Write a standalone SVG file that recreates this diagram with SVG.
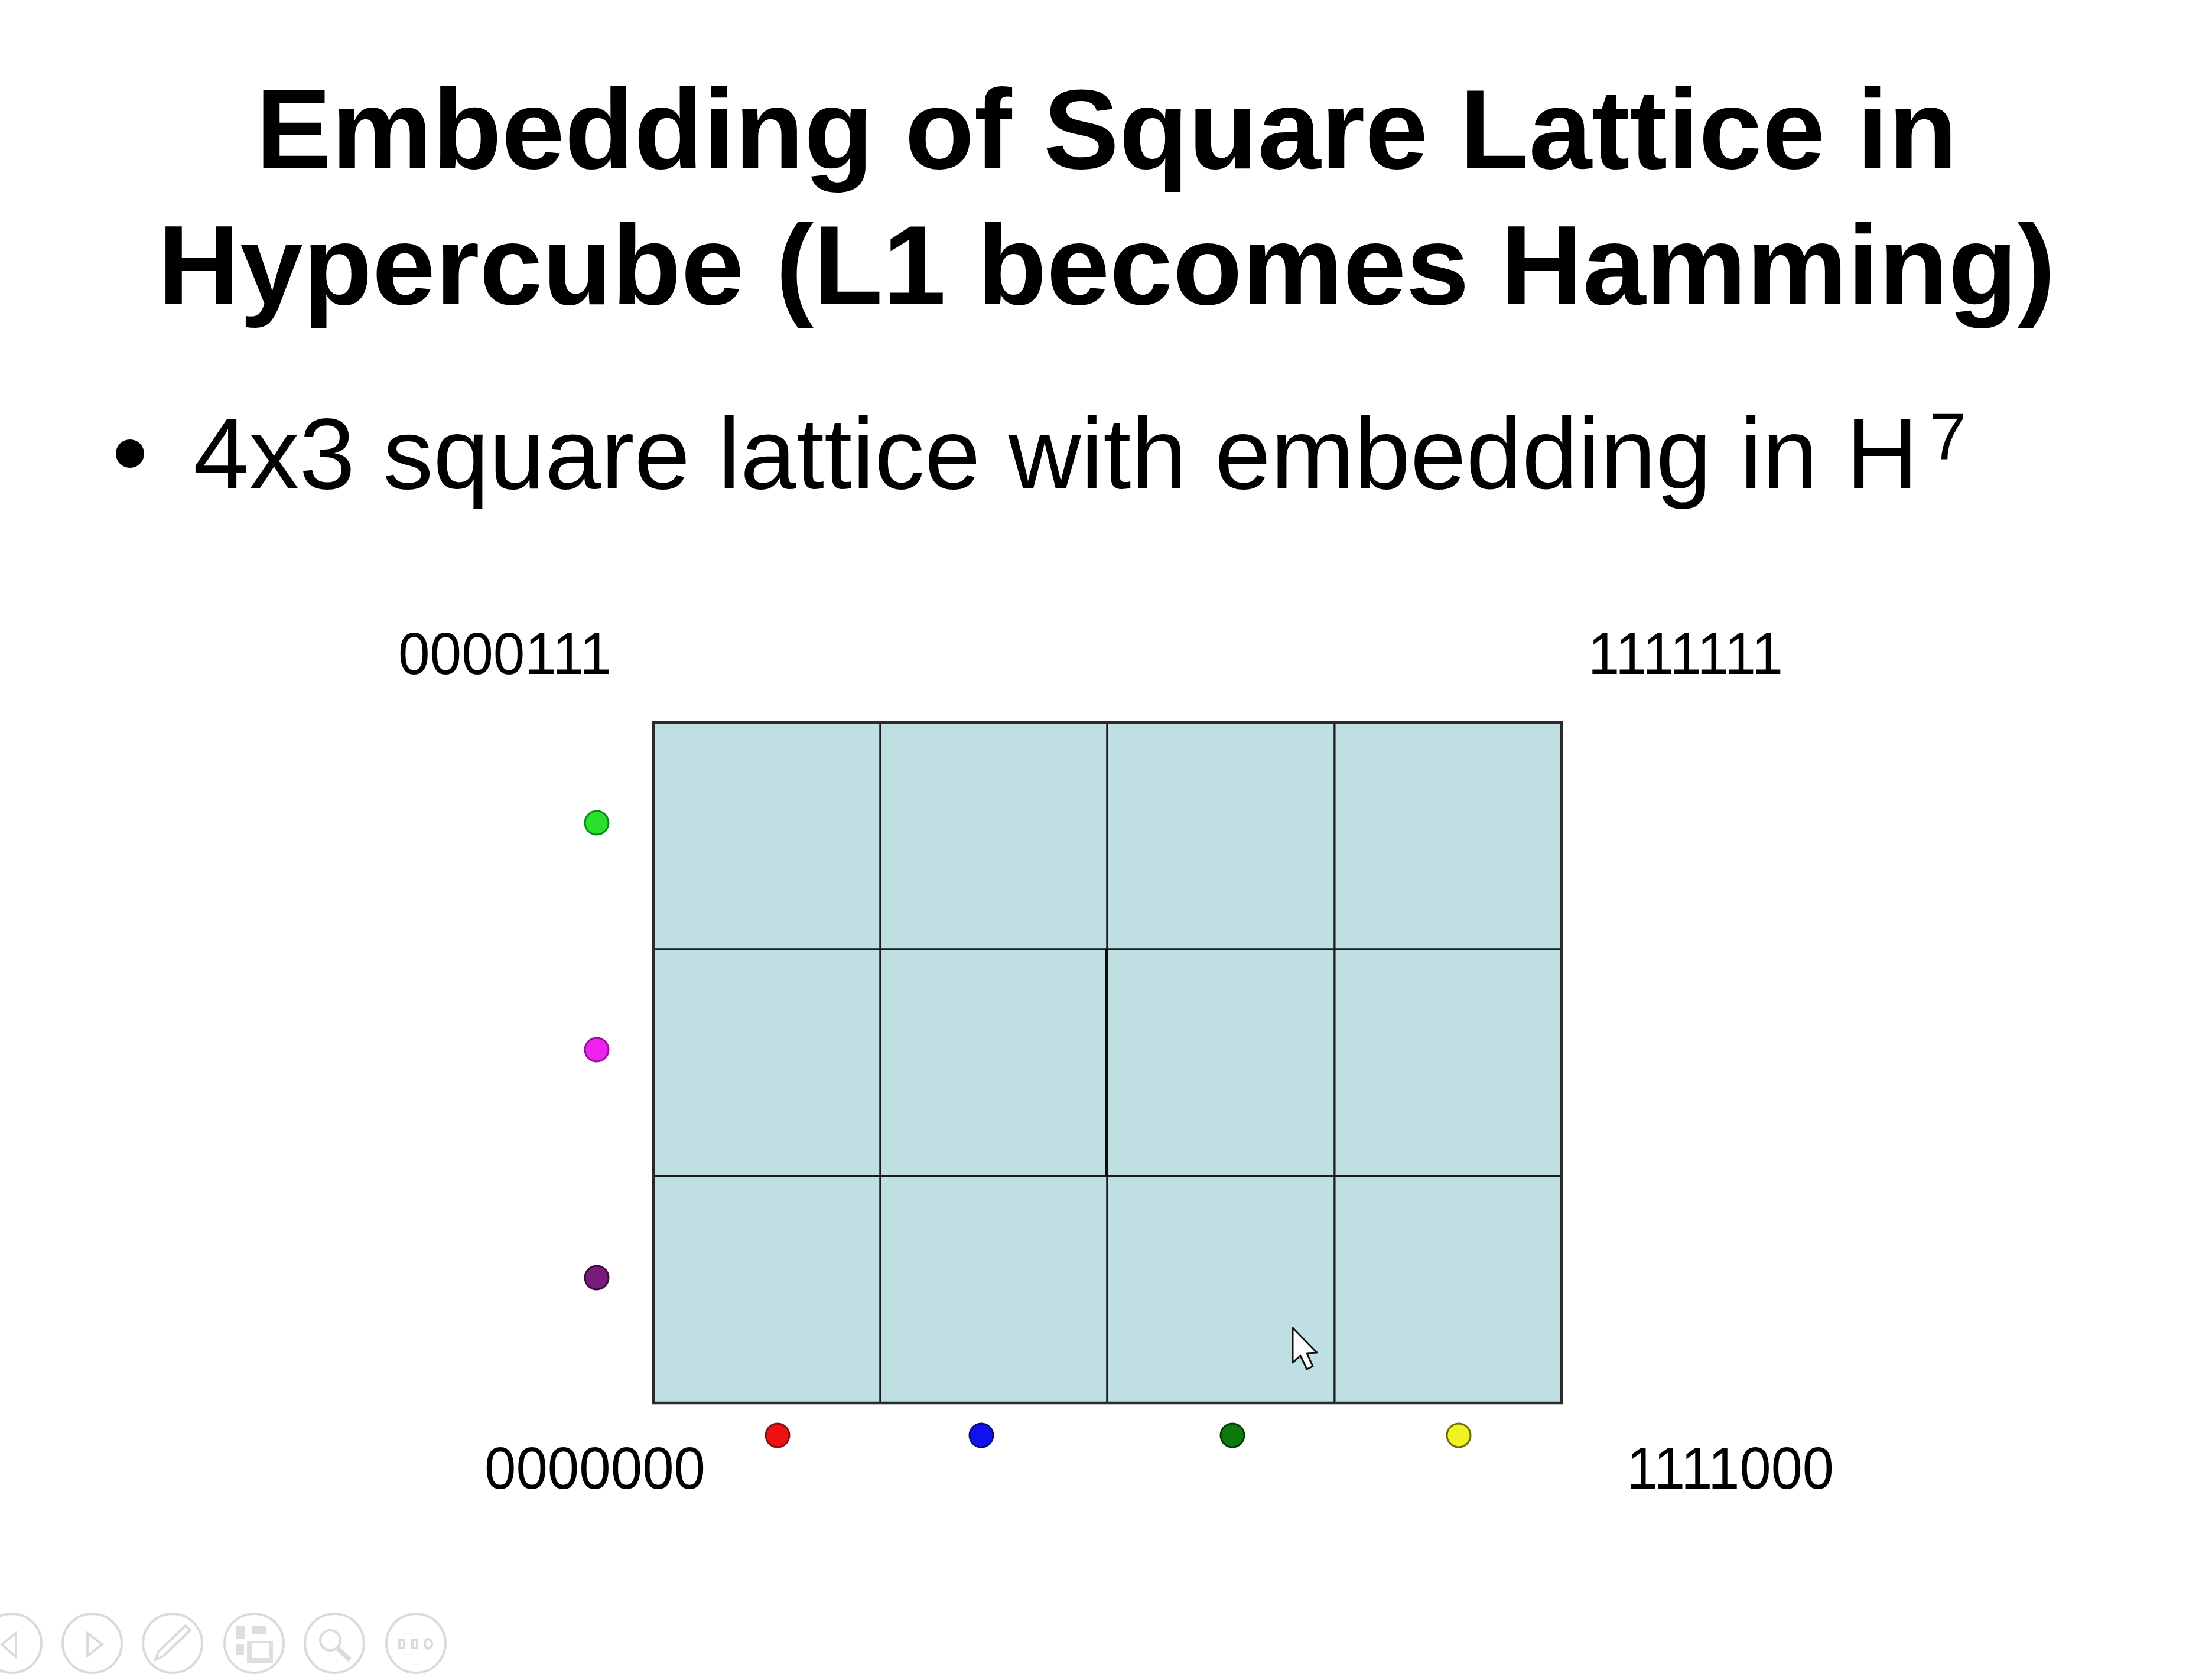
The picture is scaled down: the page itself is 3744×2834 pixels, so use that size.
<svg xmlns="http://www.w3.org/2000/svg" width="3744" height="2834" viewBox="0 0 3744 2834">
<style>
.title{font-family:"Liberation Sans",Arial,sans-serif;font-weight:bold;font-size:192px;fill:#000;text-anchor:middle}
.body{font-family:"Liberation Sans",Arial,sans-serif;font-size:170px;fill:#000}
.lbl{font-family:"Liberation Sans",Arial,sans-serif;font-size:100px;fill:#000}
.cell{fill:#bfdfe3;stroke:#1a1a1a;stroke-width:3}
.tb{fill:none;stroke:#dadada;stroke-width:4}
.tbf{fill:#dedede;stroke:none}
</style>
<rect width="3744" height="2834" fill="#ffffff"/>
<g id="title">
<text class="title" x="1873" y="285">Embedding of Square Lattice in</text>
<text class="title" x="1873" y="515">Hypercube (L1 becomes Hamming)</text>
</g>
<g id="bullet">
<circle cx="220" cy="768" r="24" fill="#000"/>
<text class="body" x="327" y="827">4x3 square lattice with embedding in H<tspan font-size="112" x="3266" y="777">7</tspan></text>
</g>
<g id="lattice">
<rect class="cell" x="1106" y="1223" width="384" height="384"/>
<rect class="cell" x="1490" y="1223" width="384" height="384"/>
<rect class="cell" x="1874" y="1223" width="385" height="384"/>
<rect class="cell" x="2259" y="1223" width="384" height="384"/>
<rect class="cell" x="1106" y="1607" width="384" height="384"/>
<rect class="cell" x="1490" y="1607" width="384" height="384"/>
<rect class="cell" x="1874" y="1607" width="385" height="384"/>
<rect class="cell" x="2259" y="1607" width="384" height="384"/>
<rect class="cell" x="1106" y="1991" width="384" height="384"/>
<rect class="cell" x="1490" y="1991" width="384" height="384"/>
<rect class="cell" x="1874" y="1991" width="385" height="384"/>
<rect class="cell" x="2259" y="1991" width="384" height="384"/>
<line x1="1873" y1="1607" x2="1873" y2="1991" stroke="#0a0a0a" stroke-width="6"/>
<rect x="1106" y="1223" width="1537" height="1152" fill="none" stroke="#2a2a2a" stroke-width="4.5"/>
</g>
<g id="dots">
<circle id="dot-green" cx="1010" cy="1393" r="20" fill="#2be02b" stroke="#11881a" stroke-width="3"/>
<circle id="dot-magenta" cx="1010" cy="1777" r="20" fill="#ee22ee" stroke="#991199" stroke-width="3"/>
<circle id="dot-purple" cx="1010" cy="2163" r="20" fill="#7a1a7a" stroke="#3e0a3e" stroke-width="3"/>
<circle id="dot-red" cx="1316" cy="2430" r="20" fill="#ee1111" stroke="#881010" stroke-width="3"/>
<circle id="dot-blue" cx="1661" cy="2430" r="20" fill="#1111ee" stroke="#0a0a88" stroke-width="3"/>
<circle id="dot-darkgreen" cx="2086" cy="2430" r="20" fill="#0c7a0c" stroke="#063d06" stroke-width="3"/>
<circle id="dot-yellow" cx="2469" cy="2430" r="20" fill="#f2f222" stroke="#6a6a10" stroke-width="3"/>
</g>
<g id="labels">
<text class="lbl" x="674" y="1141" textLength="361" lengthAdjust="spacingAndGlyphs">0000111</text>
<text class="lbl" x="2688" y="1141" textLength="330" lengthAdjust="spacingAndGlyphs">1111111</text>
<text class="lbl" x="820" y="2520" textLength="374" lengthAdjust="spacingAndGlyphs">0000000</text>
<text class="lbl" x="2753" y="2520" textLength="351" lengthAdjust="spacingAndGlyphs">1111000</text>
</g>
<g id="cursor">
<polygon points="2188,2248 2188,2307 2201,2295 2212,2318 2222,2313 2212,2291 2229,2290" fill="#ffffff" stroke="#111" stroke-width="3" stroke-linejoin="round"/>
</g>
<g id="toolbar">
<circle class="tb" cx="20" cy="2782" r="50"/>
<polygon class="tb" points="3,2784 27,2765 27,2805"/>
<circle class="tb" cx="156" cy="2782" r="50"/>
<polygon class="tb" points="148,2765 173,2784 148,2803"/>
<circle class="tb" cx="292" cy="2782" r="50"/>
<polygon class="tb" points="263,2810 268,2796 314,2752 322,2760 276,2804"/>
<circle class="tb" cx="430" cy="2782" r="50"/>
<rect class="tbf" x="399" y="2752" width="16" height="22"/>
<rect class="tbf" x="426" y="2752" width="24" height="14"/>
<rect class="tbf" x="399" y="2783" width="14" height="18"/>
<rect class="tbf" x="418" y="2778" width="44" height="37"/>
<rect x="427" y="2782" width="28" height="25" fill="#ffffff"/>
<circle class="tb" cx="566" cy="2782" r="50"/>
<circle class="tb" cx="559" cy="2777" r="17" stroke-width="6"/>
<line x1="571" y1="2790" x2="592" y2="2810" stroke="#dadada" stroke-width="8"/>
<circle class="tb" cx="704" cy="2782" r="50"/>
<rect class="tb" x="676" y="2776" width="8" height="14" stroke-width="3"/>
<rect class="tb" x="698" y="2776" width="8" height="14" stroke-width="3"/>
<ellipse class="tb" cx="725" cy="2783" rx="6" ry="8" stroke-width="3"/>
</g>
</svg>
